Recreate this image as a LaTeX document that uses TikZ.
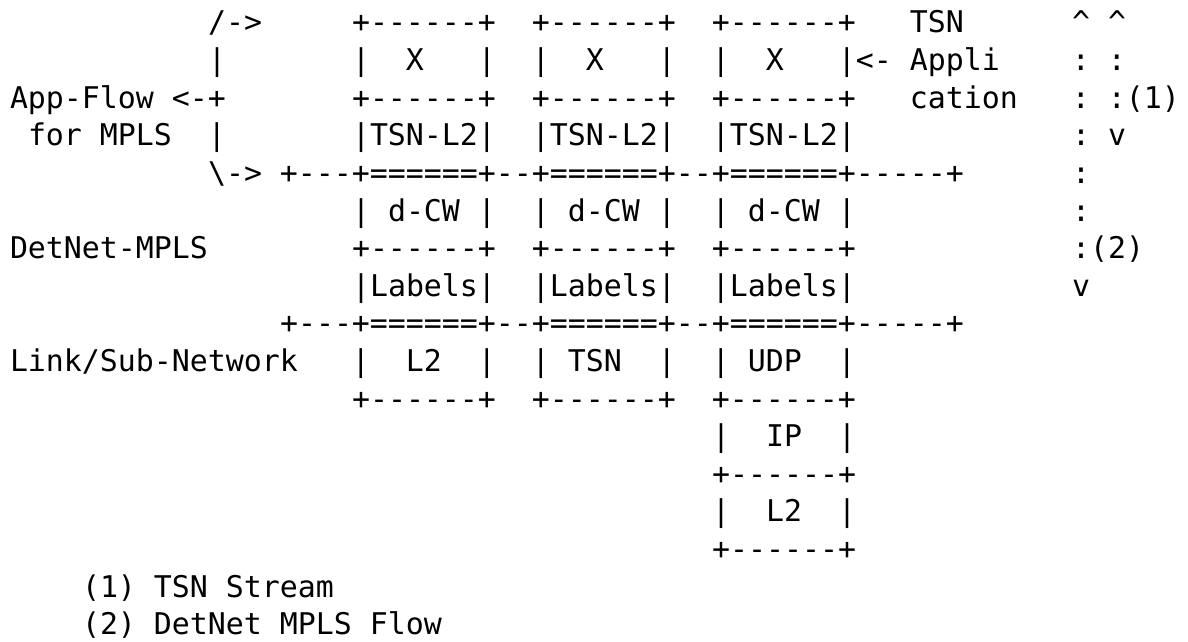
\documentclass[tikz,border=0pt]{standalone}
\usepackage{fontspec}
\setmonofont{DejaVu Sans Mono}
\newlength\cw
\setlength\cw{18pt}
\newcommand\gap[1]{\hspace*{#1\cw}}
\tikzset{
  asciirow/.style={anchor=base west, inner sep=0pt, outer sep=0pt,
    font=\ttfamily\fontsize{29.898pt}{37.6pt}\selectfont, text=black}
}
\begin{document}
\begin{tikzpicture}
\fill[white] (0,0) rectangle (1188pt,-642pt);
\useasboundingbox (0,0) rectangle (1188pt,-642pt);
\begin{scope}[x=18pt, y=-37.6pt, shift={(10pt,-33pt)}]
\node[asciirow] (r1) at (11,0) {/->\gap{5}+------+\gap{2}+------+\gap{2}+------+\gap{3}TSN\gap{6}\textasciicircum\gap{1}\textasciicircum};
\node[asciirow] (r2) at (11,1) {|\gap{7}|\gap{2}X\gap{3}|\gap{2}|\gap{2}X\gap{3}|\gap{2}|\gap{2}X\gap{3}|<-\gap{1}Appli\gap{4}:\gap{1}:};
\node[asciirow] (r3) at (0,2) {App-Flow\gap{1}<-+\gap{7}+------+\gap{2}+------+\gap{2}+------+\gap{3}cation\gap{3}:\gap{1}:(1)};
\node[asciirow] (r4) at (1,3) {for\gap{1}MPLS\gap{2}|\gap{7}|TSN-L2|\gap{2}|TSN-L2|\gap{2}|TSN-L2|\gap{12}:\gap{1}v};
\node[asciirow] (r5) at (11,4) {\textbackslash->\gap{1}+---+======+--+======+--+======+-----+\gap{6}:};
\node[asciirow] (r6) at (19,5) {|\gap{1}d-CW\gap{1}|\gap{2}|\gap{1}d-CW\gap{1}|\gap{2}|\gap{1}d-CW\gap{1}|\gap{12}:};
\node[asciirow] (r7) at (0,6) {DetNet-MPLS\gap{8}+------+\gap{2}+------+\gap{2}+------+\gap{12}:(2)};
\node[asciirow] (r8) at (19,7) {|Labels|\gap{2}|Labels|\gap{2}|Labels|\gap{12}v};
\node[asciirow] (r9) at (15,8) {+---+======+--+======+--+======+-----+};
\node[asciirow] (r10) at (0,9) {Link/Sub-Network\gap{3}|\gap{2}L2\gap{2}|\gap{2}|\gap{1}TSN\gap{2}|\gap{2}|\gap{1}UDP\gap{2}|};
\node[asciirow] (r11) at (19,10) {+------+\gap{2}+------+\gap{2}+------+};
\node[asciirow] (r12) at (39,11) {|\gap{2}IP\gap{2}|};
\node[asciirow] (r13) at (39,12) {+------+};
\node[asciirow] (r14) at (39,13) {|\gap{2}L2\gap{2}|};
\node[asciirow] (r15) at (39,14) {+------+};
\node[asciirow] (r16) at (4,15) {(1)\gap{1}TSN\gap{1}Stream};
\node[asciirow] (r17) at (4,16) {(2)\gap{1}DetNet\gap{1}MPLS\gap{1}Flow};
\end{scope}
\end{tikzpicture}
\end{document}
